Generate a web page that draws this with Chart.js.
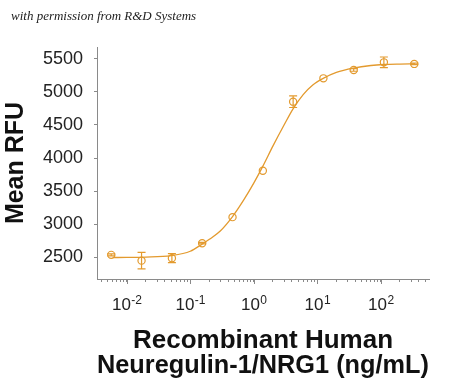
<!DOCTYPE html>
<html>
<head>
<meta charset="utf-8">
<script src="https://cdn.jsdelivr.net/npm/chart.js@4"></script>
<style>
  html, body { margin: 0; padding: 0; background: #fff; }
</style>
</head>
<body>
<canvas id="doseChart" width="450" height="385"></canvas>
<script>
// measured points (ng/mL, Mean RFU, +/- error)
const doses = [0.0057, 0.0171, 0.0514, 0.154, 0.463, 1.39, 4.17, 12.5, 37.5, 112, 337];
const meanRfu = [2535, 2448, 2485, 2712, 3106, 3808, 4853, 5206, 5333, 5448, 5424];
const errRfu = [15, 124, 68, 12, 0, 0, 88, 0, 20, 81, 12];

// fitted curve
const fitDoses = [0.006, 0.01, 0.02, 0.05, 0.1, 0.155, 0.2, 0.3, 0.46, 0.7, 1.0, 1.38, 2.0, 3.0, 4.16, 6.0, 8.5, 12.4, 20, 37, 70, 111, 200, 337];
const fitRfu = [2495, 2497, 2502, 2525, 2590, 2700, 2770, 2900, 3110, 3370, 3620, 3870, 4180, 4500, 4745, 4960, 5105, 5205, 5295, 5360, 5400, 5415, 5422, 5425];

const yTicks = [2500, 3000, 3500, 4000, 4500, 5000, 5500];
const xDecades = [-2, -1, 0, 1, 2];

const orange = '#e39a2e';
const axisGray = '#8a8a8a';
const FONT = "'Liberation Sans', Arial, sans-serif";

const xMin = 0.0034, xMax = 575;

function logTicks() {
    const out = [];
    for (let e = -3; e <= 2; e++) {
        for (let m = 1; m <= 9; m++) {
            const v = m * Math.pow(10, e);
            if (v >= xMin && v <= xMax) out.push({ value: v, major: m === 1 });
        }
    }
    return out;
}

const extras = {
    id: 'extras',
    afterDatasetsDraw(chart) {
        const ctx = chart.ctx;
        const xs = chart.scales.x, ys = chart.scales.y;
        ctx.save();
        ctx.strokeStyle = orange;
        ctx.lineWidth = 1.2;
        doses.forEach((d, i) => {
            if (!errRfu[i]) return;
            const px = xs.getPixelForValue(d);
            const top = ys.getPixelForValue(meanRfu[i] + errRfu[i]);
            const bot = ys.getPixelForValue(meanRfu[i] - errRfu[i]);
            ctx.beginPath();
            ctx.moveTo(px, top); ctx.lineTo(px, bot);
            ctx.moveTo(px - 4, top); ctx.lineTo(px + 4, top);
            ctx.moveTo(px - 4, bot); ctx.lineTo(px + 4, bot);
            ctx.stroke();
        });
        ctx.restore();
    },
    afterDraw(chart) {
        const ctx = chart.ctx;
        const xs = chart.scales.x;
        const base = chart.chartArea.bottom;
        ctx.save();
        // longer major ticks
        ctx.strokeStyle = axisGray;
        ctx.lineWidth = 1;
        xDecades.forEach(e => {
            const px = Math.round(xs.getPixelForValue(Math.pow(10, e))) + 0.5;
            ctx.beginPath();
            ctx.moveTo(px, base);
            ctx.lineTo(px, base + 5);
            ctx.stroke();
        });
        // decade labels with superscripts
        ctx.fillStyle = '#222';
        ctx.textBaseline = 'alphabetic';
        ctx.textAlign = 'left';
        xDecades.forEach(e => {
            const px = xs.getPixelForValue(Math.pow(10, e));
            ctx.font = '17px ' + FONT;
            const w1 = ctx.measureText('10').width;
            ctx.font = '12px ' + FONT;
            const sup = String(e);
            const w2 = ctx.measureText(sup).width;
            const x0 = px - (w1 + w2) / 2;
            ctx.font = '17px ' + FONT;
            ctx.fillText('10', x0, 310);
            ctx.font = '12px ' + FONT;
            ctx.fillText(sup, x0 + w1 + 0.5, 304);
        });
        // watermark
        ctx.fillStyle = '#222';
        ctx.font = "italic 13px 'Liberation Serif', 'DejaVu Serif', serif";
        ctx.fillText('with permission from R&D Systems', 11, 20);
        ctx.restore();
    }
};

new Chart(document.getElementById('doseChart'), {
    type: 'scatter',
    data: {
        datasets: [{
            label: 'Fit',
            data: fitDoses.map((d, i) => ({ x: d, y: fitRfu[i] })),
            showLine: true,
            borderColor: orange,
            borderWidth: 1.3,
            pointRadius: 0,
            cubicInterpolationMode: 'monotone',
            order: 2
        }, {
            label: 'NRG1',
            data: doses.map((d, i) => ({ x: d, y: meanRfu[i] })),
            showLine: false,
            pointStyle: 'circle',
            pointRadius: 3.6,
            pointBorderWidth: 1.2,
            borderColor: orange,
            backgroundColor: 'rgba(0,0,0,0)',
            order: 1
        }]
    },
    options: {
        responsive: false,
        animation: false,
        layout: { padding: { top: 47, right: 21, left: 0, bottom: 0 } },
        plugins: { legend: { display: false }, tooltip: { enabled: false } },
        scales: {
            x: {
                type: 'logarithmic',
                min: xMin,
                max: xMax,
                afterBuildTicks: s => { s.ticks = logTicks(); },
                afterFit: s => { s.height = 106; },
                grid: { drawOnChartArea: false, drawTicks: true, tickLength: 3, tickColor: axisGray },
                border: { color: axisGray, width: 1 },
                ticks: { display: false },
                title: {
                    display: true,
                    text: ['Recombinant Human', 'Neuregulin-1/NRG1 (ng/mL)'],
                    color: '#111',
                    font: { family: FONT, size: 26, weight: 'bold', lineHeight: 0.96 },
                    padding: { top: 0, bottom: 7 }
                }
            },
            y: {
                min: 2170,
                max: 5680,
                afterBuildTicks: s => { s.ticks = yTicks.map(v => ({ value: v })); },
                afterFit: s => { s.width = 97; },
                grid: { drawOnChartArea: false, drawTicks: true, tickLength: 3, tickColor: axisGray },
                border: { color: axisGray, width: 1 },
                ticks: {
                    color: '#222',
                    padding: 11,
                    font: { family: FONT, size: 18 },
                    callback: v => String(v)
                },
                title: {
                    display: true,
                    text: 'Mean RFU',
                    color: '#111',
                    font: { family: FONT, size: 25, weight: 'bold', lineHeight: 1.2 },
                    padding: { top: 1, bottom: 0 }
                }
            }
        }
    },
    plugins: [extras]
});
</script>
</body>
</html>
